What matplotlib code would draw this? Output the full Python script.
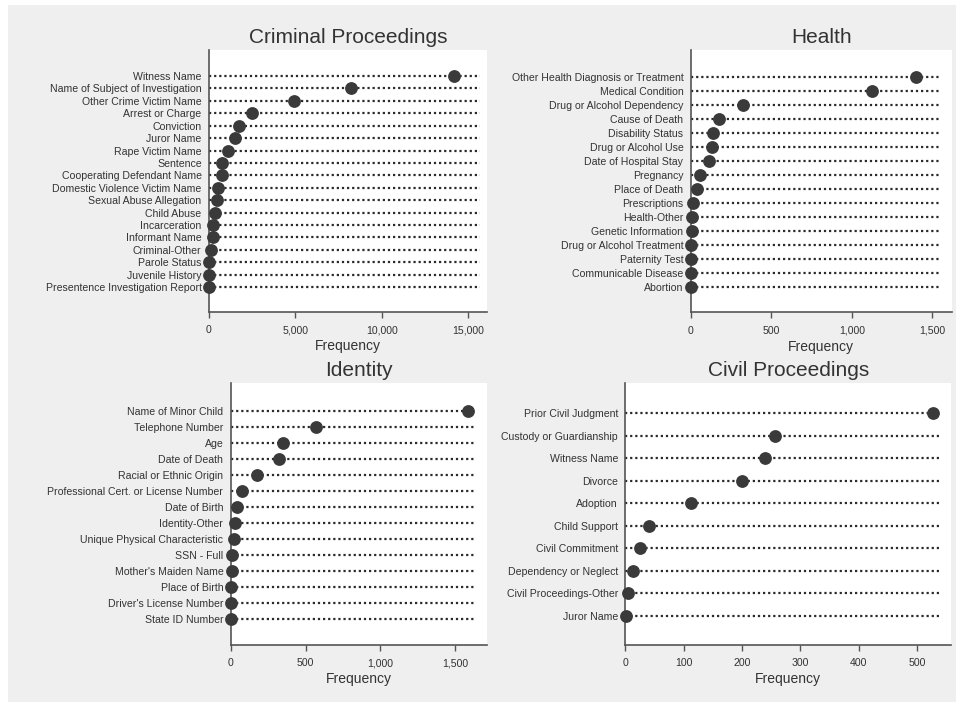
import matplotlib
matplotlib.use('Agg')
import matplotlib.pyplot as plt
from matplotlib.patches import Rectangle
import numpy as np

plt.rcParams['font.family'] = ['Liberation Sans', 'DejaVu Sans']

# data (frequency per category)
criminal_labels = ['Witness Name', 'Name of Subject of Investigation', 'Other Crime Victim Name',
                   'Arrest or Charge', 'Conviction', 'Juror Name', 'Rape Victim Name', 'Sentence',
                   'Cooperating Defendant Name', 'Domestic Violence Victim Name',
                   'Sexual Abuse Allegation', 'Child Abuse', 'Incarceration', 'Informant Name',
                   'Criminal-Other', 'Parole Status', 'Juvenile History',
                   'Presentence Investigation Report']
criminal_values = [14200, 8250, 4950, 2500, 1715, 1520, 1115, 750, 740, 520, 445, 365,
                   230, 220, 135, 30, 25, 10]

health_labels = ['Other Health Diagnosis or Treatment', 'Medical Condition',
                 'Drug or Alcohol Dependency', 'Cause of Death', 'Disability Status',
                 'Drug or Alcohol Use', 'Date of Hospital Stay', 'Pregnancy', 'Place of Death',
                 'Prescriptions', 'Health-Other', 'Genetic Information',
                 'Drug or Alcohol Treatment', 'Paternity Test', 'Communicable Disease', 'Abortion']
health_values = [1400, 1125, 323, 174, 137, 130, 114, 56, 37, 14, 8, 5, 4, 2, 2, 1]

identity_labels = ['Name of Minor Child', 'Telephone Number', 'Age', 'Date of Death',
                   'Racial or Ethnic Origin', 'Professional Cert. or License Number',
                   'Date of Birth', 'Identity-Other', 'Unique Physical Characteristic',
                   'SSN - Full', "Mother's Maiden Name", 'Place of Birth',
                   "Driver's License Number", 'State ID Number']
identity_values = [1588, 568, 352, 320, 174, 73, 44, 31, 24, 7, 6, 3, 3, 1]

civil_labels = ['Prior Civil Judgment', 'Custody or Guardianship', 'Witness Name', 'Divorce',
                'Adoption', 'Child Support', 'Civil Commitment', 'Dependency or Neglect',
                'Civil Proceedings-Other', 'Juror Name']
civil_values = [527, 256, 240, 200, 113, 40, 26, 13, 4, 1]

dot_color = '#3a3a3a'
text_color = '#333333'
axis_color = '#555555'

fig = plt.figure(figsize=(9.56, 7.02), dpi=100)
fig.patch.set_facecolor('white')
fig.patches.append(Rectangle((8/956, -0.01), 1.01 - 8/956, 1.01 - 5/702, transform=fig.transFigure,
                             facecolor='#efefef', edgecolor='none', zorder=-10))

# [left, bottom, width, height], xmax, ticks, line end (axes frac), top/bottom margins (rows)
panels = [
    ('Criminal Proceedings', criminal_labels, criminal_values,
     [0.2186, 0.5556, 0.2908, 0.3732], 16100, [0, 5000, 10000, 15000], 0.975, 2.1, 2.0),
    ('Health', health_labels, health_values,
     [0.7225, 0.5551, 0.2730, 0.3736], 1621, [0, 500, 1000, 1500], 0.952, 1.9, 1.83),
    ('Identity', identity_labels, identity_values,
     [0.2413, 0.0812, 0.2678, 0.3728], 1710, [0, 500, 1000, 1500], 0.95, 1.71, 1.64),
    ('Civil Proceedings', civil_labels, civil_values,
     [0.6541, 0.0812, 0.3407, 0.3728], 558.6, [0, 100, 200, 300, 400, 500], 0.964, 1.33, 1.29),
]

for title, labels, values, rect, xmax, ticks, line_end, tm, bm in panels:
    ax = fig.add_axes(rect)
    ax.set_facecolor('white')
    n = len(labels)
    ypos = np.arange(n)
    # dotted guide lines
    trans = ax.get_yaxis_transform()
    for y in ypos:
        ax.plot([0, line_end], [y, y], transform=trans, color='#2a2a2a', lw=1.6,
                linestyle=(0, (1, 1.3)), zorder=1)
    ax.plot(values, ypos, 'o', color=dot_color, markersize=8.2, zorder=3, clip_on=False)
    ax.set_xlim(0, xmax)
    ax.set_ylim(n - 1 + bm, -tm)
    ax.set_yticks(ypos)
    ax.set_yticklabels(labels)
    ax.set_xticks(ticks)
    ax.set_xticklabels(['{:,}'.format(t) for t in ticks])
    ax.tick_params(axis='y', length=0, pad=5.3, labelsize=7.6, labelcolor=text_color)
    ax.tick_params(axis='x', length=4, width=1, color=axis_color, pad=5.5, labelsize=7.6,
                   labelcolor=text_color)
    for s in ['top', 'right']:
        ax.spines[s].set_visible(False)
    for s in ['left', 'bottom']:
        ax.spines[s].set_color(axis_color)
        ax.spines[s].set_linewidth(1.2)
    ax.set_xlabel('Frequency', fontsize=10, color=text_color, labelpad=3)
    ax.set_title(title, fontsize=15, color=text_color, pad=5)

fig.savefig('out.png', dpi=100)
